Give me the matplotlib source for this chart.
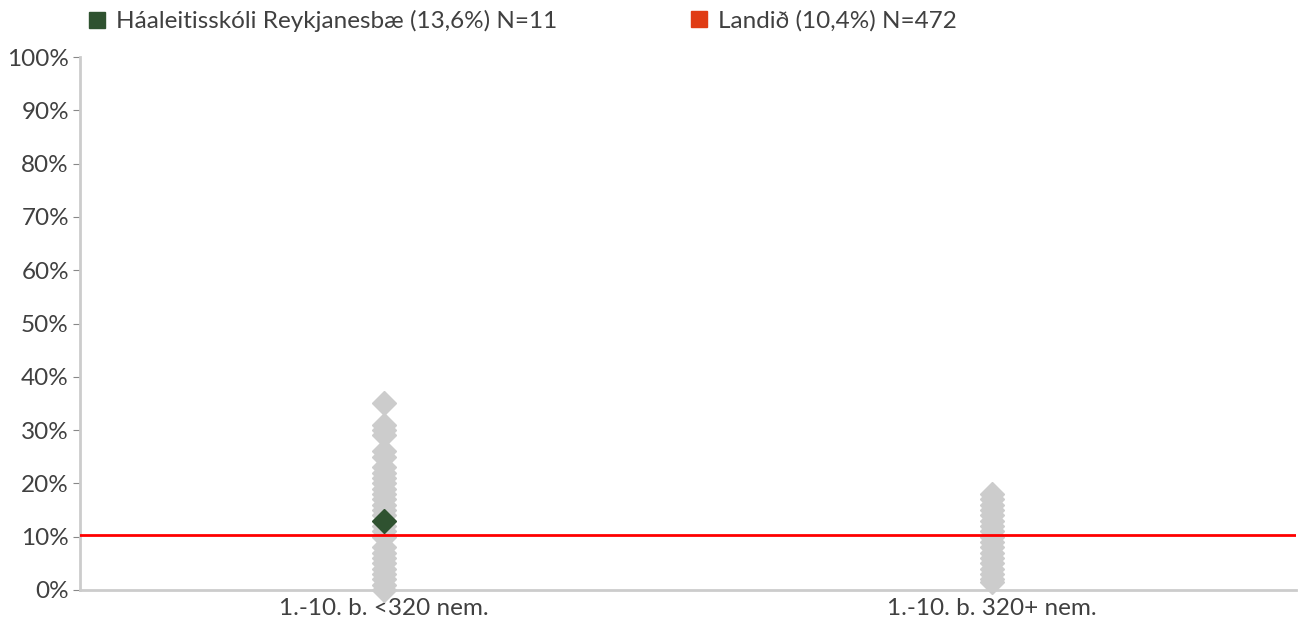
import numpy as np
import matplotlib.pyplot as plt
from matplotlib.lines import Line2D

# Data
categories = ["1.-10. b. <320 nem.", "1.-10. b. 320+ nem."]
small_schools = [35, 31, 30, 29, 26, 25, 23, 22, 21, 20, 19, 18, 17, 16, 15, 14,
                 12, 11, 10, 8, 7, 6, 5, 4, 3, 2, 1, 0]
large_schools = [18, 17, 16, 15, 14, 13, 12, 11, 10, 9, 8, 7, 6, 5, 4, 3, 2, 1.5]
school_value = 13.0
school_cat = 0
national = 10.4
legend_labels = ["Háaleitisskóli Reykjanesbæ (13,6%) N=11", "Landið (10,4%) N=472"]

plt.rcParams["font.family"] = ["Lato", "DejaVu Sans"]
text_col = "#404040"
fs = 17.5

fig = plt.figure(figsize=(13.06, 6.19), dpi=100)
ax = fig.add_axes([80 / 1306, 29 / 619, 1216 / 1306, 533 / 619])

grey = "#cccccc"
for i, vals in enumerate([small_schools, large_schools]):
    ax.plot(np.full(len(vals), i), np.array(vals) / 100, "D", ms=12,
            color=grey, mec=grey, linestyle="none", zorder=2, clip_on=False)

ax.axhline(national / 100, color="#ff0000", lw=2, zorder=3)
ax.plot([school_cat], [school_value / 100], "D", ms=12, color="#2f5230",
        mec="#2f5230", zorder=4, clip_on=False)

ax.set_xlim(-0.5, 1.5)
ax.set_ylim(0, 1)
ax.set_xticks(range(len(categories)))
ax.set_xticklabels(categories)
ax.set_yticks(np.arange(0, 1.01, 0.1))
ax.set_yticklabels([f"{int(round(v * 100))}%" for v in np.arange(0, 1.01, 0.1)])
ax.tick_params(axis="y", length=5, color="#888888", labelcolor=text_col, labelsize=fs, pad=3)
ax.tick_params(axis="x", length=0, labelcolor=text_col, labelsize=fs, pad=6)
for s in ["top", "right"]:
    ax.spines[s].set_visible(False)
for s in ["left", "bottom"]:
    ax.spines[s].set_color(grey)
    ax.spines[s].set_linewidth(2)

handles = [Line2D([], [], marker="s", color="#2f5230", ls="none", ms=12),
           Line2D([], [], marker="s", color="#e03c14", ls="none", ms=12)]
fig.legend(handles[:1], legend_labels[:1], loc="center left",
           bbox_to_anchor=(63 / 1306, 1 - 21 / 619), frameon=False,
           fontsize=fs, labelcolor=text_col, handletextpad=0.3, handlelength=1)
fig.legend(handles[1:], legend_labels[1:], loc="center left",
           bbox_to_anchor=(665 / 1306, 1 - 21 / 619), frameon=False,
           fontsize=fs, labelcolor=text_col, handletextpad=0.3, handlelength=1)

fig.savefig("out.png", dpi=100)
